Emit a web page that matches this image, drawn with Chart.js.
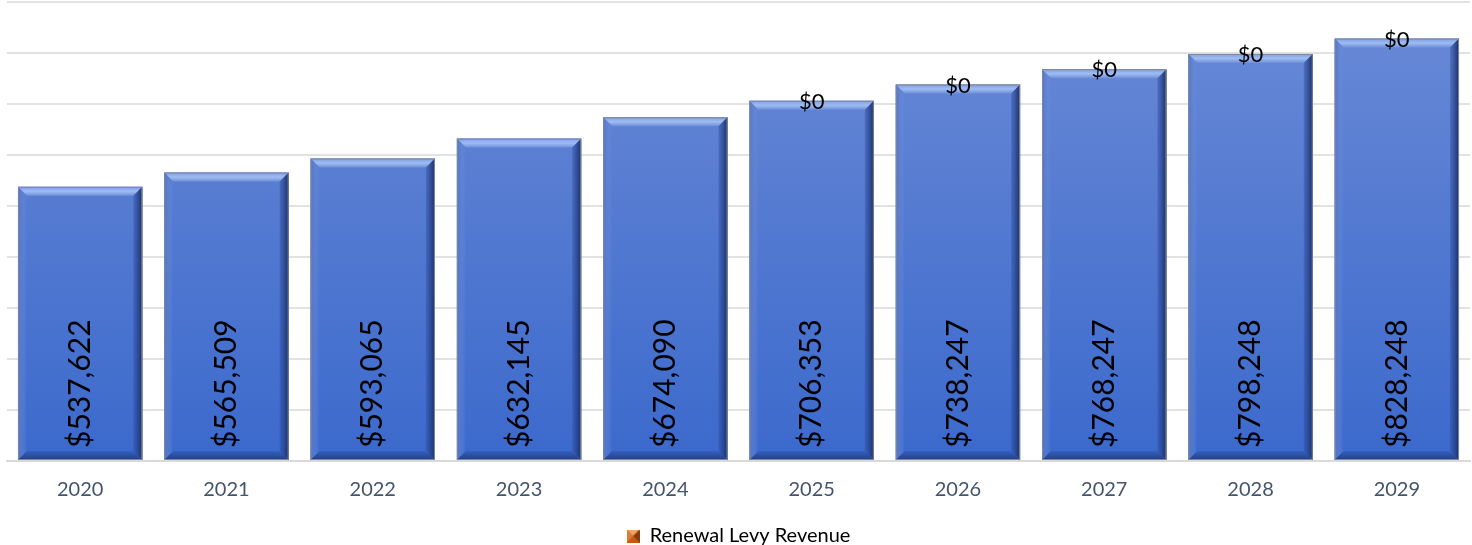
<!DOCTYPE html>
<html>
<head>
    <meta charset="utf-8"/>
    <title>Revenue</title>
    <style>
        html, body { margin: 0; padding: 0; background: #fff; }
        #wrap { width: 1472px; height: 545px; }
    </style>
    <script src="https://cdn.jsdelivr.net/npm/chart.js@4/dist/chart.umd.min.js"></script>
</head>
<body>
<div id="wrap"><canvas id="chart"></canvas></div>
<script>
    const years = ['2020', '2021', '2022', '2023', '2024', '2025', '2026', '2027', '2028', '2029'];
    const baseRevenue = [537622, 565509, 593065, 632145, 674090, 706353, 738247, 768247, 798248, 828248];
    const levyRevenue = [null, null, null, null, null, 0, 0, 0, 0, 0];
    const yMax = 900000;
    const yStep = 100000;

    const FONT = 'Lato, "Open Sans", sans-serif';

    function money(v) {
        return '$' + v.toLocaleString('en-US');
    }

    // face colour of the blue bars, lighter at the top
    function blueFace(ctx) {
        const area = ctx.chart.chartArea;
        if (!area) return '#4f7bd4';
        const g = ctx.chart.ctx.createLinearGradient(0, area.top, 0, area.bottom);
        g.addColorStop(0, '#6a8ad6');
        g.addColorStop(1, '#3b69cc');
        return g;
    }

    // bevelled edges + value labels
    const bevelPlugin = {
        id: 'bevel',
        afterDatasetsDraw(chart) {
            const ctx = chart.ctx;
            const meta = chart.getDatasetMeta(0);
            ctx.save();
            meta.data.forEach((bar) => {
                const l = bar.x - bar.width / 2, r = bar.x + bar.width / 2;
                const t = bar.y, b = bar.base;
                const d = 9;
                // top
                let g = ctx.createLinearGradient(0, t, 0, t + d);
                g.addColorStop(0, '#7d9de2');
                g.addColorStop(0.5, '#9fbdf2');
                g.addColorStop(1, '#6d8fdb');
                ctx.fillStyle = g;
                ctx.beginPath();
                ctx.moveTo(l, t); ctx.lineTo(r, t); ctx.lineTo(r - d, t + d); ctx.lineTo(l + d, t + d); ctx.closePath();
                ctx.fill();
                // left
                g = ctx.createLinearGradient(l, 0, l + d, 0);
                g.addColorStop(0, '#4f73c4');
                g.addColorStop(1, 'rgba(120,150,225,0.0)');
                ctx.fillStyle = g;
                ctx.beginPath();
                ctx.moveTo(l, t); ctx.lineTo(l + d, t + d); ctx.lineTo(l + d, b - d); ctx.lineTo(l, b); ctx.closePath();
                ctx.fill();
                // right
                g = ctx.createLinearGradient(r - d, 0, r, 0);
                g.addColorStop(0, 'rgba(40,70,150,0.35)');
                g.addColorStop(1, '#1c2f66');
                ctx.fillStyle = g;
                ctx.beginPath();
                ctx.moveTo(r, t); ctx.lineTo(r, b); ctx.lineTo(r - d, b - d); ctx.lineTo(r - d, t + d); ctx.closePath();
                ctx.fill();
                // bottom
                g = ctx.createLinearGradient(0, b - d, 0, b);
                g.addColorStop(0, '#3460bf');
                g.addColorStop(1, '#223f86');
                ctx.fillStyle = g;
                ctx.beginPath();
                ctx.moveTo(l, b); ctx.lineTo(r, b); ctx.lineTo(r - d, b - d); ctx.lineTo(l + d, b - d); ctx.closePath();
                ctx.fill();
                // outline
                ctx.strokeStyle = '#7f8898';
                ctx.lineWidth = 1;
                ctx.strokeRect(l + 0.5, t + 0.5, bar.width - 1, b - t - 1);
            });

            // rotated values inside the blue bars
            ctx.fillStyle = '#000';
            ctx.font = '30px ' + FONT;
            ctx.textAlign = 'left';
            ctx.textBaseline = 'middle';
            meta.data.forEach((bar, i) => {
                ctx.save();
                ctx.translate(bar.x, bar.base - 12);
                ctx.rotate(-Math.PI / 2);
                ctx.fillText(money(baseRevenue[i]), 0, 0);
                ctx.restore();
            });

            // levy values at the top of each stack
            const meta2 = chart.getDatasetMeta(1);
            ctx.font = '22px ' + FONT;
            ctx.textAlign = 'center';
            meta2.data.forEach((bar, i) => {
                if (levyRevenue[i] === null) return;
                ctx.fillText(money(levyRevenue[i]), bar.x, bar.y + 1);
            });
            ctx.restore();
        }
    };

    // small bevelled orange legend swatch
    function orangeSwatch() {
        const c = document.createElement('canvas');
        c.width = 13; c.height = 13;
        const x = c.getContext('2d');
        x.fillStyle = '#c65a11'; x.fillRect(0, 0, 13, 13);
        x.fillStyle = '#f4a460';
        x.beginPath(); x.moveTo(0, 0); x.lineTo(13, 0); x.lineTo(6.5, 6.5); x.closePath(); x.fill();
        x.fillStyle = '#e07a2e';
        x.beginPath(); x.moveTo(0, 0); x.lineTo(6.5, 6.5); x.lineTo(0, 13); x.closePath(); x.fill();
        x.fillStyle = '#8a3a08';
        x.beginPath(); x.moveTo(13, 0); x.lineTo(13, 13); x.lineTo(6.5, 6.5); x.closePath(); x.fill();
        return c;
    }

    const swatch = orangeSwatch();

    const chart = new Chart(document.getElementById('chart'), {
        type: 'bar',
        data: {
            labels: years,
            datasets: [
                {
                    label: 'Base Revenue',
                    data: baseRevenue,
                    backgroundColor: blueFace,
                    borderWidth: 0,
                    categoryPercentage: 0.85,
                    barPercentage: 1.0,
                },
                {
                    label: 'Renewal Levy Revenue',
                    data: levyRevenue,
                    backgroundColor: '#c65a11',
                    borderWidth: 0,
                    categoryPercentage: 0.85,
                    barPercentage: 1.0,
                },
            ],
        },
        options: {
            responsive: true,
            maintainAspectRatio: false,
            animation: false,
            layout: { padding: { left: 7, right: 2, top: 2, bottom: -11 } },
            scales: {
                x: {
                    stacked: true,
                    grid: { display: false },
                    border: { display: true, color: '#d9d9d9', width: 2 },
                    ticks: { color: '#44546a', font: { family: FONT, size: 20 }, padding: 9 },
                },
                y: {
                    stacked: true,
                    min: 0,
                    max: yMax,
                    ticks: { display: false, stepSize: yStep },
                    grid: { color: '#e2e2e2', lineWidth: 2, drawTicks: false },
                    border: { display: false },
                },
            },
            plugins: {
                legend: {
                    position: 'bottom',
                    labels: {
                        color: '#000',
                        font: { family: FONT, size: 20 },
                        usePointStyle: true,
                        pointStyle: swatch,
                        boxWidth: 13,
                        boxHeight: 13,
                        padding: 15,
                        filter: (item) => item.datasetIndex === 1,
                    },
                },
                tooltip: { enabled: false },
            },
        },
        plugins: [bevelPlugin],
    });
</script>
</body>
</html>
